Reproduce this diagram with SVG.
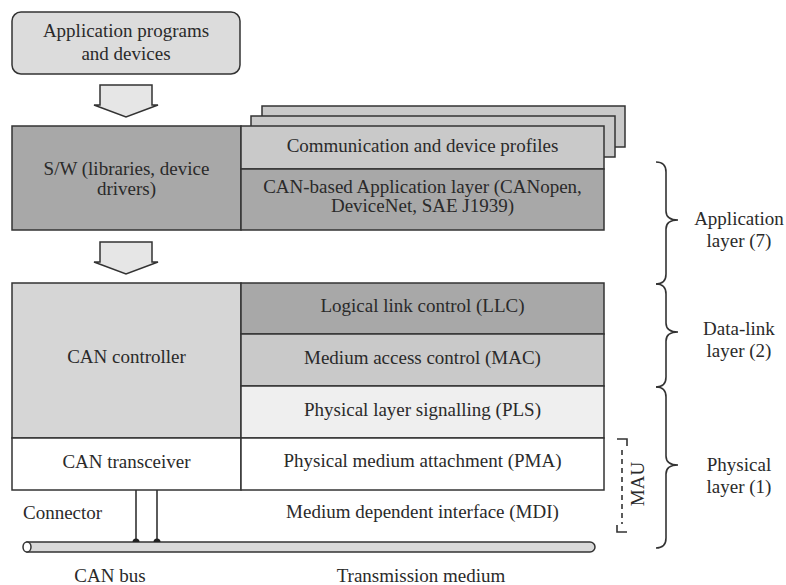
<svg xmlns="http://www.w3.org/2000/svg" width="786" height="585" viewBox="0 0 786 585">
<style>
.t{font-family:"Liberation Serif","Times New Roman",serif;font-size:19px;fill:#2a2a2a;text-anchor:middle}
.tl{font-family:"Liberation Serif","Times New Roman",serif;font-size:19px;fill:#2a2a2a}
.b{stroke:#333;stroke-width:1.5}
.ln{fill:none;stroke:#333;stroke-width:1.6}
.dk{fill:#a8a8a8}
.md{fill:#c9c9c9}
.lt{fill:#d6d6d6}
.vl{fill:#efefef}
.wh{fill:#ffffff}
.arr{fill:#e6e6e6;stroke:#333;stroke-width:1.5;stroke-linejoin:miter}
</style>
<rect width="786" height="585" fill="#ffffff"/>

<g id="app-programs">
<rect x="12" y="12" width="228" height="62" rx="9" fill="#dcdcdc" class="b"/>
<text class="t" x="126" y="37">Application programs</text>
<text class="t" x="126" y="60">and devices</text>
</g>

<g id="arrow1"><path class="arr" d="M100,85 H152 V105 H158 L126,117 L94,105 H100 Z"/></g>
<g id="arrow2"><path class="arr" d="M100,242 H152 V262 H158 L126,274 L94,262 H100 Z"/></g>

<g id="profile-pages">
<rect x="262" y="106" width="363" height="41" class="md b"/>
<rect x="251" y="116" width="364" height="41" class="md b"/>
</g>

<g id="sw">
<rect x="12" y="126" width="229" height="104" class="dk b"/>
<text class="t" x="126.5" y="175">S/W (libraries, device</text>
<text class="t" x="126.5" y="195">drivers)</text>
</g>
<g id="comm-profiles">
<rect x="241" y="126" width="363" height="43" class="md b"/>
<text class="t" x="422.5" y="152">Communication and device profiles</text>
</g>
<g id="can-app">
<rect x="241" y="169" width="363" height="61" class="dk b"/>
<text class="t" x="422.5" y="193">CAN-based Application layer (CANopen,</text>
<text class="t" x="422.5" y="212">DeviceNet, SAE J1939)</text>
</g>

<g id="can-controller">
<rect x="12" y="283" width="229" height="155" class="lt b"/>
<text class="t" x="126.5" y="363">CAN controller</text>
</g>
<g id="llc">
<rect x="241" y="283" width="363" height="51" class="dk b"/>
<text class="t" x="422.5" y="312">Logical link control (LLC)</text>
</g>
<g id="mac">
<rect x="241" y="334" width="363" height="52" class="md b"/>
<text class="t" x="422.5" y="364">Medium access control (MAC)</text>
</g>
<g id="pls">
<rect x="241" y="386" width="363" height="52" class="vl b"/>
<text class="t" x="422.5" y="416">Physical layer signalling (PLS)</text>
</g>
<g id="can-transceiver">
<rect x="12" y="438" width="229" height="52" class="wh b"/>
<text class="t" x="126.5" y="468">CAN transceiver</text>
</g>
<g id="pma">
<rect x="241" y="438" width="363" height="52" class="wh b"/>
<text class="t" x="422.5" y="467">Physical medium attachment (PMA)</text>
</g>
<g id="mdi">
<text class="t" x="422.5" y="518">Medium dependent interface (MDI)</text>
</g>
<g id="connector-label">
<text class="tl" x="23" y="519">Connector</text>
</g>

<g id="bus">
<path d="M27,542 H590 A5,5 0 0 1 590,552 H27 Z" fill="#d9d9d9" class="b"/>
<ellipse cx="27" cy="547" rx="4" ry="5" fill="#ffffff" class="b"/>
<text class="t" x="110" y="582">CAN bus</text>
<text class="t" x="421" y="582">Transmission medium</text>
</g>

<g id="connectors">
<line x1="136" y1="490" x2="136" y2="542" class="ln"/>
<line x1="157" y1="490" x2="157" y2="542" class="ln"/>
<path d="M132.5,542 A3.5,3.5 0 0 1 139.5,542 Z" fill="#222"/>
<path d="M153.5,542 A3.5,3.5 0 0 1 160.5,542 Z" fill="#222"/>
</g>

<g id="mau">
<path class="ln" stroke-width="1.3" d="M617,439 H627 V446"/>
<line x1="622" y1="450" x2="622" y2="524" class="ln" stroke-width="1.3" stroke-dasharray="5,4"/>
<path class="ln" stroke-width="1.3" d="M617,525 V532 H627"/>
<text class="t" transform="translate(644,484) rotate(-90)">MAU</text>
</g>

<g id="brace-application">
<path class="ln" d="M656,162 Q666,162 666,172 L666,211 Q666,220 678,220 Q666,220 666,229 L666,274 Q666,284 656,284"/>
<text class="t" x="739" y="225">Application</text>
<text class="t" x="739" y="247">layer (7)</text>
</g>
<g id="brace-datalink">
<path class="ln" d="M656,284 Q666,284 666,294 L666,323 Q666,332 678,332 Q666,332 666,341 L666,377 Q666,387 656,387"/>
<text class="t" x="739" y="335">Data-link</text>
<text class="t" x="739" y="357">layer (2)</text>
</g>
<g id="brace-physical">
<path class="ln" d="M656,387 Q666,387 666,397 L666,456 Q666,465 678,465 Q666,465 666,474 L666,538 Q666,548 656,548"/>
<text class="t" x="739" y="471">Physical</text>
<text class="t" x="739" y="493">layer (1)</text>
</g>
</svg>
